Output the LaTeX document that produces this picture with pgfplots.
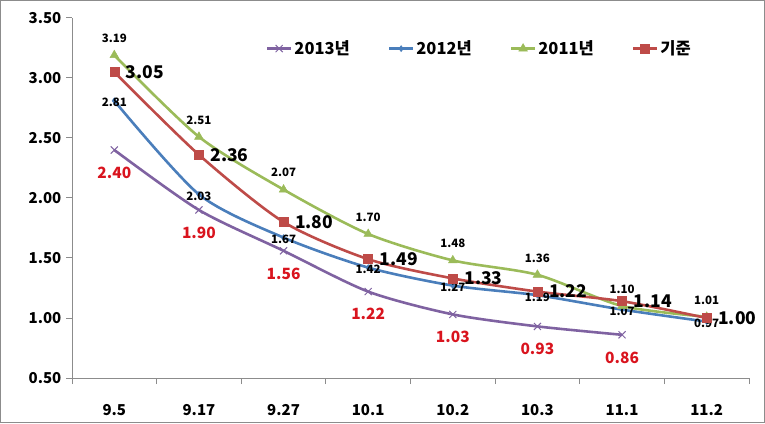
\documentclass[border=0pt]{standalone}
\usepackage{fontspec}
\setmainfont{Noto Sans CJK KR}
\usepackage{pgfplots}
\pgfplotsset{compat=1.18}
\definecolor{c13}{HTML}{7F62A1}
\definecolor{c12}{HTML}{4A7EBB}
\definecolor{c11}{HTML}{9BBB59}
\definecolor{cbase}{HTML}{BE4B48}
\definecolor{redlab}{HTML}{D9141E}
\definecolor{axgray}{HTML}{8C8C8C}

\begin{document}
\begin{tikzpicture}[x=1pt,y=1pt]
\useasboundingbox (0,0) rectangle (765,423);
\draw[black!45, line width=1.2pt] (0.6,0.6) rectangle (764.4,422.4);
\begin{axis}[
    at={(72pt,45pt)}, anchor=south west,
    scale only axis, width=677pt, height=360pt,
    xmin=-0.5, xmax=7.5, ymin=0.5, ymax=3.5,
    axis lines*=left,
    axis line style={draw=axgray, line width=1pt},
    xtick={0,...,7},
    xticklabels={9.5,9.17,9.27,10.1,10.2,10.3,11.1,11.2},
    minor xtick={-0.5,0.5,...,7.5},
    major x tick style={draw=none},
    ytick={0.5,1,...,3.5},
    tick align=outside,
    major tick length=6pt, minor tick length=6pt,
    tick style={draw=axgray, line width=1pt},
    /pgf/number format/assume math mode=true,
    /pgf/number format/fixed, /pgf/number format/fixed zerofill, /pgf/number format/precision=2,
    ticklabel style={font=\fontsize{15}{15}\selectfont\bfseries},
    xticklabel style={yshift=-16pt},
    yticklabel style={xshift=0pt},
    line width=2.6pt,
    smooth, tension=0.45,
    nodes near coords,
    legend columns=4,
    legend style={draw=none, fill=none, at={(axis description cs:0.28,0.915)}, anchor=west,
        font=\fontsize{16.5}{16.5}\selectfont\bfseries, /tikz/every even column/.append style={column sep=36pt}},
    legend image code/.code={
        \draw[mark repeat=2, mark phase=2, #1] plot coordinates {(0pt,0pt) (12pt,0pt) (24pt,0pt)};},
    legend image post style={line width=2.6pt},
]
\addplot[color=c13, mark=x, mark size=5pt, mark options={line width=1pt},
    every node near coord/.append style={anchor=north, yshift=-13pt, text=redlab, font=\fontsize{15.5}{15.5}\selectfont\bfseries}]
    coordinates {(0,2.40) (1,1.90) (2,1.56) (3,1.22) (4,1.03) (5,0.93) (6,0.86)};
\addlegendentry{2013년}
\addplot[color=c12, mark=diamond*, mark size=3pt, mark options={line width=0.5pt},
    every node near coord/.append style={anchor=center, yshift=-2pt, text=black, font=\fontsize{11.5}{12}\selectfont\bfseries}]
    coordinates {(0,2.81) (1,2.03) (2,1.67) (3,1.42) (4,1.27) (5,1.19) (6,1.07) (7,0.97)};
\addlegendentry{2012년}
\addplot[color=c11, mark=triangle*, mark size=5pt, mark options={line width=0.5pt},
    every node near coord/.append style={anchor=south, yshift=9pt, text=black, font=\fontsize{11.5}{12}\selectfont\bfseries}]
    coordinates {(0,3.19) (1,2.51) (2,2.07) (3,1.70) (4,1.48) (5,1.36) (6,1.10) (7,1.01)};
\addlegendentry{2011년}
\addplot[color=cbase, mark=square*, mark size=4.5pt, mark options={line width=0.5pt},
    every node near coord/.append style={anchor=west, xshift=8pt, text=black, font=\fontsize{17.5}{17.5}\selectfont\bfseries}]
    coordinates {(0,3.05) (1,2.36) (2,1.80) (3,1.49) (4,1.33) (5,1.22) (6,1.14) (7,1.00)};
\addlegendentry{기준}
\end{axis}
\end{tikzpicture}
\end{document}
